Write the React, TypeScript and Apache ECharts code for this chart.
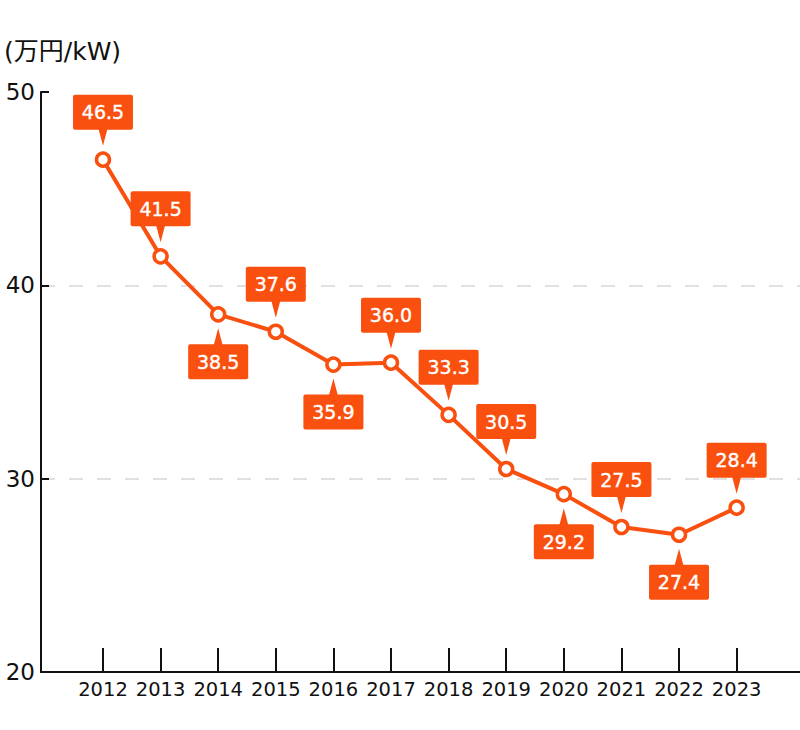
import React, { useEffect, useRef } from "react";
import * as echarts from "echarts";

const years = [2012, 2013, 2014, 2015, 2016, 2017, 2018, 2019, 2020, 2021, 2022, 2023];
const values = [46.5, 41.5, 38.5, 37.6, 35.9, 36.0, 33.3, 30.5, 29.2, 27.5, 27.1, 28.5];
const labelTexts = ["46.5", "41.5", "38.5", "37.6", "35.9", "36.0", "33.3", "30.5", "29.2", "27.5", "27.4", "28.4"];
const labelSides = ["top", "top", "bottom", "top", "bottom", "top", "top", "top", "bottom", "top", "bottom", "top"];
const yTicks = [20, 30, 40, 50];
const unitLabel = "(万円/kW)";

const ORANGE = "#F9500F";
const FONT = "'DejaVu Sans', 'Noto Sans CJK JP', sans-serif";

export default function App() {
  const ref = useRef<HTMLDivElement>(null);
  useEffect(() => {
    document.body.style.margin = "0";
    document.body.style.overflow = "hidden";
    if (!ref.current) return;
    const chart = echarts.init(ref.current, null, { renderer: "svg" });
    const points = years.map((y, i) => [y, values[i]]);
    chart.setOption({
      animation: false,
      textStyle: { fontFamily: FONT },
      graphic: [
        {
          type: "text",
          left: 4,
          top: 39,
          style: { text: unitLabel, fontFamily: FONT, fontSize: 25, fill: "#111" },
        },
      ],
      grid: { left: 41, right: 0, top: 92, bottom: 58, containLabel: false },
      xAxis: {
        type: "value",
        min: 2010.924,
        max: 2024.1,
        axisLine: { show: true, lineStyle: { color: "#111", width: 2 } },
        axisTick: {
          show: true,
          inside: true,
          length: 24,
          customValues: years,
          lineStyle: { color: "#111", width: 2 },
        },
        axisLabel: {
          customValues: years,
          color: "#111",
          fontSize: 19.5,
          fontFamily: FONT,
          margin: 8,
          formatter: (v: number) => String(Math.round(v)),
        },
        splitLine: { show: false },
      },
      yAxis: {
        type: "value",
        min: yTicks[0],
        max: yTicks[yTicks.length - 1],
        interval: 10,
        axisLine: { show: true, lineStyle: { color: "#111", width: 2 } },
        axisTick: { show: true, inside: true, length: 8, lineStyle: { color: "#111", width: 2 } },
        axisLabel: { color: "#111", fontSize: 23, fontFamily: FONT, margin: 6 },
        splitLine: {
          show: true,
          showMinLine: false,
          showMaxLine: false,
          lineStyle: { color: "#d8d8d8", type: [14, 14], width: 1.5 },
        },
      },
      series: [
        {
          type: "line",
          data: points,
          lineStyle: { color: ORANGE, width: 4 },
          itemStyle: { color: "#fff", borderColor: ORANGE, borderWidth: 3.5 },
          symbol: "circle",
          symbolSize: 13,
          z: 3,
        },
        {
          type: "custom",
          data: points,
          z: 5,
          renderItem: (params: any, api: any) => {
            const i = params.dataIndex;
            const p = api.coord([api.value(0), api.value(1)]);
            const px = p[0];
            const py = p[1];
            const dir = labelSides[i] === "top" ? -1 : 1;
            const boxTop = dir < 0 ? py - 65 : py + 30;
            const baseY = dir < 0 ? py - 31 : py + 31;
            const tipY = dir < 0 ? py - 14 : py + 14;
            return {
              type: "group",
              children: [
                {
                  type: "rect",
                  shape: { x: px - 30, y: boxTop, width: 60, height: 35, r: 2 },
                  style: { fill: ORANGE },
                },
                {
                  type: "polygon",
                  shape: { points: [[px - 4.5, baseY], [px + 4.5, baseY], [px, tipY]] },
                  style: { fill: ORANGE },
                },
                {
                  type: "text",
                  x: px,
                  y: boxTop + 17.5,
                  style: {
                    text: labelTexts[i],
                    fill: "#fff",
                    fontSize: 19,
                    fontFamily: FONT,
                    align: "center",
                    verticalAlign: "middle",
                    stroke: "#fff",
                    lineWidth: 0.4,
                  },
                },
              ],
            };
          },
        },
      ],
    });
    return () => chart.dispose();
  }, []);
  return <div ref={ref} style={{ width: 800, height: 730 }} />;
}
